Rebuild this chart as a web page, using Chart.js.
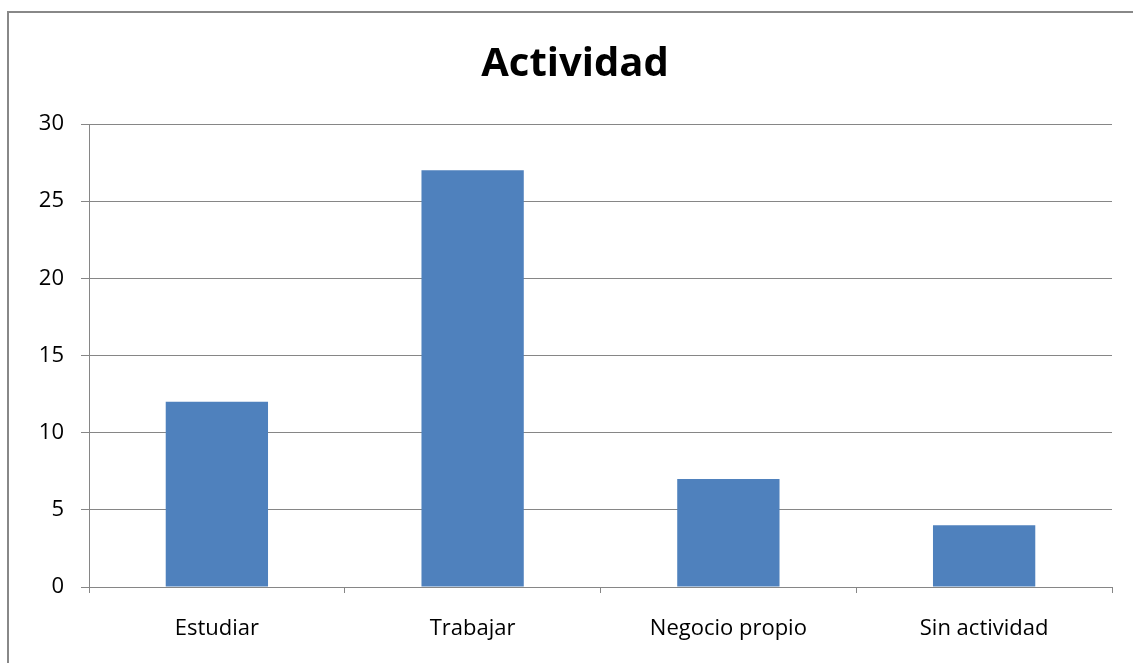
<!DOCTYPE html>
<html>
<head>
<meta charset="utf-8">
<script src="https://cdn.jsdelivr.net/npm/chart.js@4/dist/chart.umd.min.js"></script>
<style>
  body { margin: 0; background: #fff; overflow: hidden; }
  #frame {
    position: absolute; left: 7px; top: 11px;
    width: 1200px; height: 700px;
    border: 2px solid #888;
  }
  #wrap { position: absolute; left: 0; top: 0; width: 1133px; height: 663px; }
</style>
</head>
<body>
<div id="frame"></div>
<div id="wrap"><canvas id="actividad-chart"></canvas></div>
<script>
// data
const categories = ["Estudiar", "Trabajar", "Negocio propio", "Sin actividad"];
const values = [12, 27, 7, 4];
const yTicks = [0, 5, 10, 15, 20, 25, 30];

const lineGray = '#868686';

const chartCanvas = document.getElementById("actividad-chart");

const chartData = {
    labels: categories,
    datasets: [{
        label: 'Actividad',
        data: values,
        backgroundColor: '#4F81BD',
        borderWidth: 0,
        barPercentage: 0.4,
        categoryPercentage: 1
    }]
};

const chartOptions = {
    responsive: true,
    maintainAspectRatio: false,
    animation: false,
    layout: {
        // left/right padding also centers the title where the original frame center was
        padding: { left: 38, right: 21, top: 0, bottom: 0 }
    },
    scales: {
        x: {
            grid: {
                offset: true,
                drawOnChartArea: false,
                drawTicks: true,
                tickLength: 6,
                color: lineGray
            },
            border: { display: true, color: lineGray, width: 1 },
            ticks: {
                color: '#000',
                padding: 23,
                maxRotation: 0,
                font: { family: 'Open Sans', size: 22 }
            },
            afterFit: (scale) => { scale.height = 76; }
        },
        y: {
            min: 0,
            max: 30,
            afterBuildTicks: (scale) => {
                scale.ticks = yTicks.map(v => ({ value: v }));
            },
            grid: {
                color: lineGray,
                tickLength: 8,
                drawTicks: true
            },
            border: { display: true, color: lineGray, width: 1 },
            ticks: {
                color: '#000',
                padding: 17,
                font: { family: 'Open Sans', size: 22 }
            },
            afterFit: (scale) => { scale.width = 51; }
        }
    },
    plugins: {
        legend: { display: false },
        tooltip: { enabled: false },
        title: {
            display: true,
            text: 'Actividad',
            color: '#000',
            font: { family: 'Open Sans', size: 40, weight: 'bold', lineHeight: 1.2 },
            padding: { top: 41, bottom: 35 }
        }
    }
};

let actividadChart = new Chart(chartCanvas, {
    type: 'bar',
    data: chartData,
    options: chartOptions
});
</script>
</body>
</html>
